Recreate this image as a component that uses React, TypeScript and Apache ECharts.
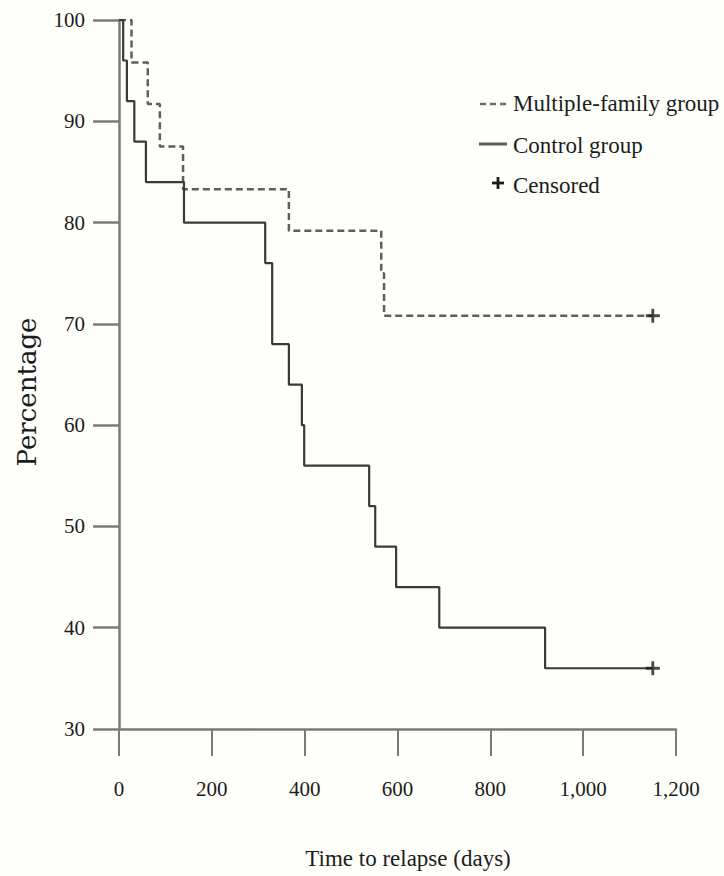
import React, { useEffect, useRef } from "react";
import * as echarts from "echarts";

// Control group (solid): event times (days) and survival percentage after each event
const controlDays = [0, 9, 17, 33, 58, 140, 315, 330, 366, 394, 399, 539, 552, 597, 690, 918, 1150];
const controlPct = [100, 96, 92, 88, 84, 80, 76, 68, 64, 60, 56, 52, 48, 44, 40, 36, 36];

// Multiple-family group (dashed)
const familyDays = [0, 27, 62, 88, 138, 366, 565, 571, 1150];
const familyPct = [100, 95.8, 91.7, 87.5, 83.3, 79.2, 75.0, 70.8, 70.8];

// Censored observations
const censoredDays = [1150, 1150];
const censoredPct = [70.8, 36];

const xTicks = [0, 200, 400, 600, 800, 1000, 1200];
const yTicks = [30, 40, 50, 60, 70, 80, 90, 100];

const SERIF = "Liberation Serif, serif";
const TEXT = "#1c1c1c";
const AXIS = "#7a7a7a";

export default function App() {
  const ref = useRef<HTMLDivElement>(null);

  useEffect(() => {
    document.body.style.margin = "0";
    if (!ref.current) return;
    const chart = echarts.init(ref.current, null, { renderer: "svg" });

    const fmt = (v: number) => v.toLocaleString("en-US");

    chart.setOption({
      animation: false,
      backgroundColor: "#fefefa",
      grid: { left: 119, right: 48, top: 20, bottom: 147, containLabel: false },
      xAxis: {
        type: "value",
        min: xTicks[0],
        max: xTicks[xTicks.length - 1],
        interval: 200,
        axisLine: { show: true, onZero: false, lineStyle: { color: AXIS, width: 2.5 } },
        axisTick: { show: true, length: 27, lineStyle: { color: AXIS, width: 2 } },
        axisLabel: {
          margin: 49,
          color: TEXT,
          fontFamily: SERIF,
          fontSize: 21,
          formatter: (v: number) => fmt(v),
        },
        splitLine: { show: false },
      },
      yAxis: {
        type: "value",
        min: yTicks[0],
        max: yTicks[yTicks.length - 1],
        interval: 10,
        axisLine: { show: true, onZero: false, lineStyle: { color: AXIS, width: 2.5 } },
        axisTick: { show: true, length: 26, lineStyle: { color: AXIS, width: 2.5 } },
        axisLabel: {
          margin: 34,
          color: TEXT,
          fontFamily: SERIF,
          fontSize: 21,
        },
        splitLine: { show: false },
      },
      series: [
        {
          name: "Multiple-family group",
          type: "line",
          step: "end",
          data: familyDays.map((d, i) => [d, familyPct[i]]),
          showSymbol: false,
          symbol: "none",
          lineStyle: { color: "#5e5e5e", width: 2.5, type: [7, 4] },
          z: 3,
        },
        {
          name: "Control group",
          type: "line",
          step: "end",
          data: controlDays.map((d, i) => [d, controlPct[i]]),
          showSymbol: false,
          symbol: "none",
          lineStyle: { color: "#3a3a3a", width: 2.2 },
          z: 4,
        },
        {
          name: "Censored",
          type: "scatter",
          data: censoredDays.map((d, i) => [d, censoredPct[i]]),
          symbol: "path://M4,0h2v4h4v2h-4v4h-2v-4h-4v-2h4z",
          symbolSize: 14,
          itemStyle: { color: "#1a1a1a" },
          z: 5,
        },
      ],
      graphic: [
        {
          type: "text",
          x: 27,
          y: 392,
          rotation: Math.PI / 2,
          style: {
            text: "Percentage",
            fill: TEXT,
            font: "26px DejaVu Serif, serif",
            align: "center",
            verticalAlign: "middle",
          },
        },
        {
          type: "text",
          x: 408,
          y: 858,
          style: {
            text: "Time to relapse (days)",
            fill: TEXT,
            font: `23px ${SERIF}`,
            align: "center",
            verticalAlign: "middle",
          },
        },
        {
          type: "line",
          shape: { x1: 480, y1: 104, x2: 508, y2: 104 },
          style: { stroke: "#6a6a6a", lineWidth: 2.5, lineDash: [6, 4] },
        },
        {
          type: "text",
          x: 513,
          y: 103,
          style: {
            text: "Multiple-family group",
            fill: TEXT,
            font: `23px ${SERIF}`,
            align: "left",
            verticalAlign: "middle",
          },
        },
        {
          type: "line",
          shape: { x1: 479, y1: 144, x2: 507, y2: 144 },
          style: { stroke: "#5a5a5a", lineWidth: 3 },
        },
        {
          type: "text",
          x: 513,
          y: 145,
          style: {
            text: "Control group",
            fill: TEXT,
            font: `23px ${SERIF}`,
            align: "left",
            verticalAlign: "middle",
          },
        },
        {
          type: "line",
          shape: { x1: 492, y1: 183, x2: 504, y2: 183 },
          style: { stroke: "#1a1a1a", lineWidth: 2.8 },
        },
        {
          type: "line",
          shape: { x1: 498, y1: 177, x2: 498, y2: 189 },
          style: { stroke: "#1a1a1a", lineWidth: 2.8 },
        },
        {
          type: "text",
          x: 513,
          y: 185,
          style: {
            text: "Censored",
            fill: TEXT,
            font: `23px ${SERIF}`,
            align: "left",
            verticalAlign: "middle",
          },
        },
      ],
    });

    return () => chart.dispose();
  }, []);

  return <div ref={ref} style={{ width: 724, height: 876 }} />;
}
